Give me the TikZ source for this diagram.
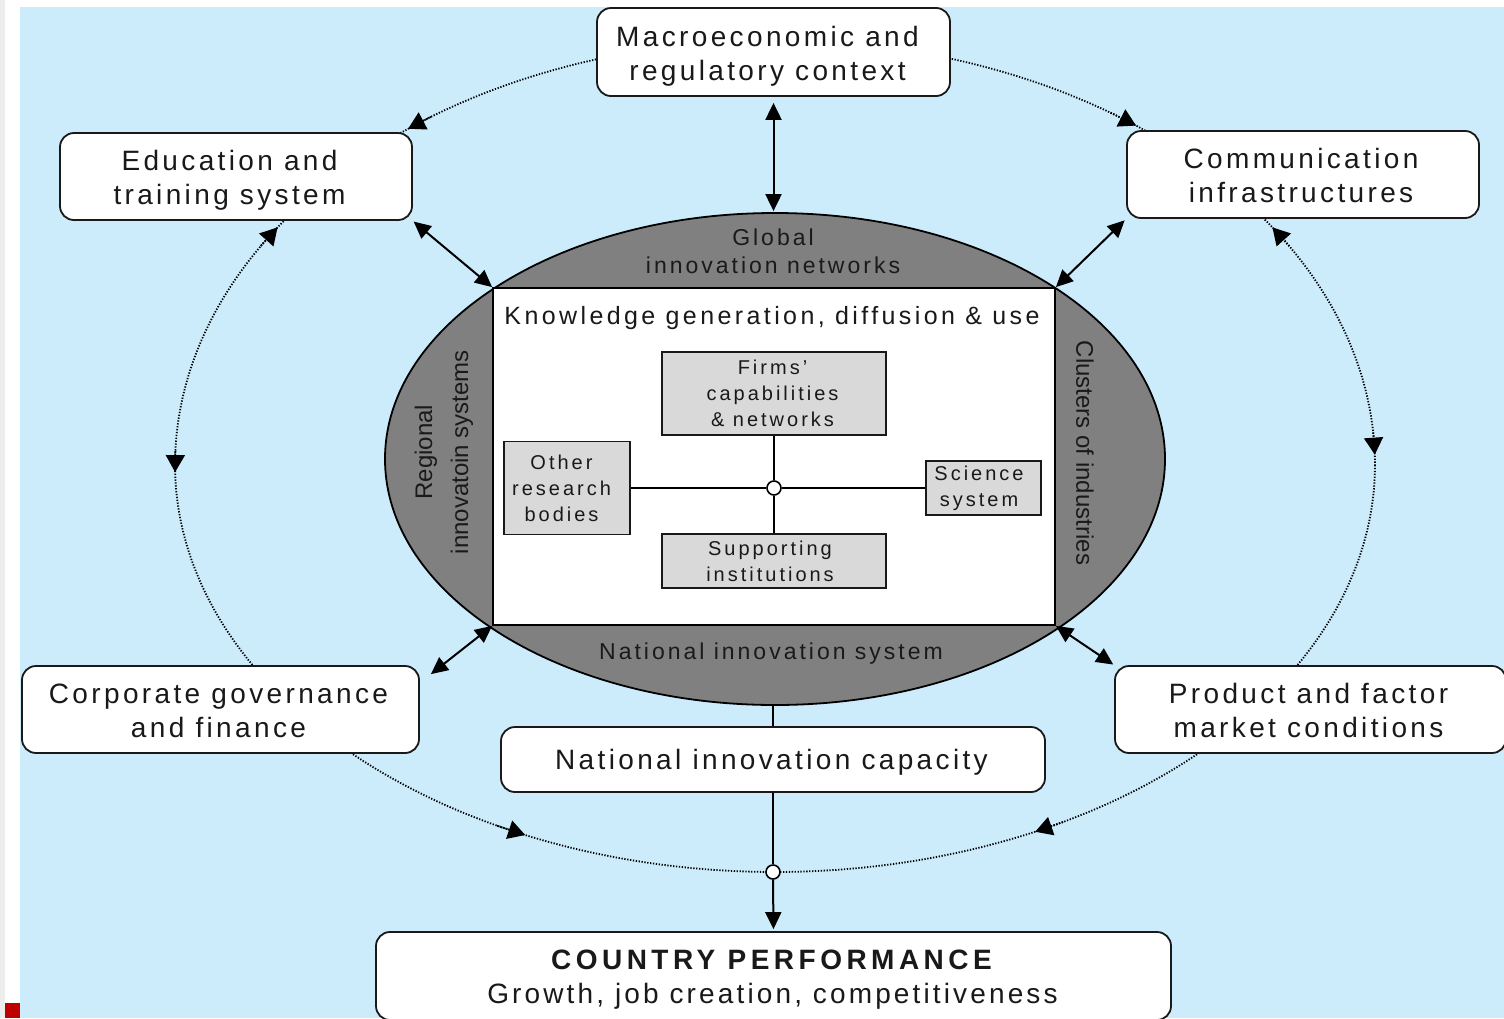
\documentclass[tikz,border=0pt]{standalone}
\usepackage{fontspec}
\setmainfont{Liberation Sans}
\usetikzlibrary{arrows.meta,shapes.geometric,calc}
\definecolor{bgblue}{RGB}{204,236,252}
\definecolor{ringgray}{RGB}{128,128,128}
\definecolor{boxgray}{RGB}{217,217,217}
\definecolor{darktext}{RGB}{26,26,26}
\newcommand\fs[3]{\fontsize{#1}{#2}\selectfont\addfontfeature{LetterSpace=#3}}
\newcommand\vstrut[1]{\rule{0pt}{#1pt}}
\newcommand\rk[1]{\kern#1pt}
\newcommand\ellarrow[3]{\draw[dotline,-{Triangle[length=17pt,width=19pt]}] ({775+600*cos(#2)},{465+#1*sin(#2)}) -- ({775+600*cos(#3)},{465+#1*sin(#3)});}
\begin{document}
\begin{tikzpicture}[x=1pt,y=-1pt,
  dotline/.style={line width=1.8pt, dash pattern=on 1.3pt off 1.6pt, black},
  dbl/.style={line width=2pt, {Triangle[length=17pt,width=16pt]}-{Triangle[length=17pt,width=16pt]}},
  conn/.style={line width=2pt},
  bigbox/.style={draw=black!90, line width=1.8pt, rounded corners=14pt, fill=white, align=center, inner sep=0pt, text=black!90, font=\fs{28}{34}{12}},
  inbox/.style={draw=black!90, line width=1.8pt, fill=boxgray, align=center, inner sep=0pt, text=black!90, font=\fs{20}{26}{15}},
  hub/.style={circle, draw=black, line width=1.6pt, fill=white, minimum size=14pt, inner sep=0pt}
]
\useasboundingbox (0,0) rectangle (1504,1018);
\fill[white] (0,0) rectangle (1504,1018);
\fill[black!7] (0,0) rectangle (5,1018);
\fill[bgblue] (20,7) rectangle (1504,1018);
\fill[red!75!black] (5,1003) rectangle (20,1018);

% outer dotted ring
\draw[dotline] plot[domain=180:360,samples=140] ({775+600*cos(\x)},{465+425*sin(\x)});
\draw[dotline] plot[domain=0:180,samples=140] ({775+600*cos(\x)},{465+407*sin(\x)});
\ellarrow{425}{235}{232.3}
\ellarrow{425}{304}{307}
\ellarrow{425}{329}{326}
\ellarrow{425}{355.6}{358.6}
\ellarrow{425}{211}{214}
\ellarrow{407}{182}{179}
\ellarrow{407}{117.6}{114.6}
\ellarrow{407}{61.3}{64.3}

% national innovation system ellipse
\node[draw=black, line width=1.8pt, fill=ringgray, ellipse, minimum width=780pt, minimum height=492pt, inner sep=0pt] (gell) at (775,459) {};
\node[draw=black, line width=1.8pt, fill=white, minimum width=562pt, minimum height=337pt, inner sep=0pt] (kbox) at (774,456.5) {};

\node[font=\fs{23}{28}{13}, text=darktext, align=center] (glob) at (773,251) {Global\\innovation networks};
\node[font=\fs{25}{30}{13.6}, text=black!90] (know) at (772,316) {\vstrut{22.3}Knowledge generation, diffusion \& use};
\node[font=\fs{23}{28}{13}, text=darktext] (nis) at (771,650) {\vstrut{22.8}National innovation system};
\node[font=\fs{24}{36}{0}, text=darktext, rotate=90, align=center] (reg) at (444,452) {Regional\\innovatoin systems};
\node[font=\fs{24}{30}{0}, text=darktext, rotate=-90] (clu) at (1085,453) {Clusters of industries};

% inner boxes
\node[inbox, minimum width=224pt, minimum height=83pt] (firms) at (774,393.5) {Firms’\rk{3}\\capabilities\rk{3}\\\& networks\rk{3}};
\node[inbox, minimum width=126pt, minimum height=93pt] (other) at (567,488) {Other\rk{11}\\research\rk{11}\\bodies\rk{11}};
\node[inbox, minimum width=115pt, minimum height=54pt] (sci) at (983.5,488) {Science\rk{9}\\system\rk{9}};
\node[inbox, minimum width=224pt, minimum height=54pt] (supp) at (774,561) {Supporting\rk{8}\\institutions\rk{8}};
\node[hub] (hub) at (774,488) {};
\draw[conn] (firms.south) -- (hub.north);
\draw[conn] (supp.north) -- (hub.south);
\draw[conn] (other.east) -- (hub.west);
\draw[conn] (sci.west) -- (hub.east);

% outer boxes
\node[bigbox, minimum width=353pt, minimum height=88pt] (macro) at (773.5,52) {\vstrut{28.4}Macroeconomic and\rk{12}\\regulatory context\rk{12}};
\node[bigbox, minimum width=352pt, minimum height=87pt] (edu) at (236,176.5) {\vstrut{28.4}Education and\rk{13}\\training system\rk{13}};
\node[bigbox, minimum width=352pt, minimum height=87pt] (comm) at (1303,174.5) {\vstrut{22.4}Communication\rk{4}\\infrastructures\rk{4}};
\node[bigbox, minimum width=397pt, minimum height=87pt] (corp) at (220.5,709.5) {\vstrut{22.4}Corporate governance\rk{4}\\and finance\rk{4}};
\node[bigbox, minimum width=391pt, minimum height=87pt] (prod) at (1310.5,709.5) {\vstrut{22.4}Product and factor\rk{4}\\market conditions\rk{4}};
\node[bigbox, minimum width=544pt, minimum height=65pt] (nic) at (773,759.5) {\vstrut{26.4}National innovation capacity\rk{3}};
\node[bigbox, minimum width=795pt, minimum height=88pt] (perf) at (773.5,976) {\vstrut{26}{\bfseries\addfontfeature{LetterSpace=16}COUNTRY PERFORMANCE}\rk{4}\\{\addfontfeature{LetterSpace=11.2}Growth, job creation, competitiveness}\rk{2}};
\node[hub] (hub2) at (773,872) {};

% connectors
\draw[dbl, shorten <=6pt, shorten >=1pt] (macro.south) -- (macro.south |- gell.north);
\draw[dbl, shorten <=1pt] (edu.south east) -- (kbox.north west);
\draw[dbl, shorten <=2pt] (comm.south west) -- (kbox.north east);
\draw[dbl] ($(corp.north east)+(11,9)$) -- (kbox.south west);
\draw[dbl, shorten <=1pt] (prod.north west) -- (kbox.south east);
\draw[conn] (nic.north |- gell.south) -- (nic.north);
\draw[conn] (nic.south) -- (hub2.north);
\draw[conn, -{Triangle[length=17pt,width=16pt]}, shorten >=2pt] (hub2.south) -- (perf.north);
\end{tikzpicture}
\end{document}
